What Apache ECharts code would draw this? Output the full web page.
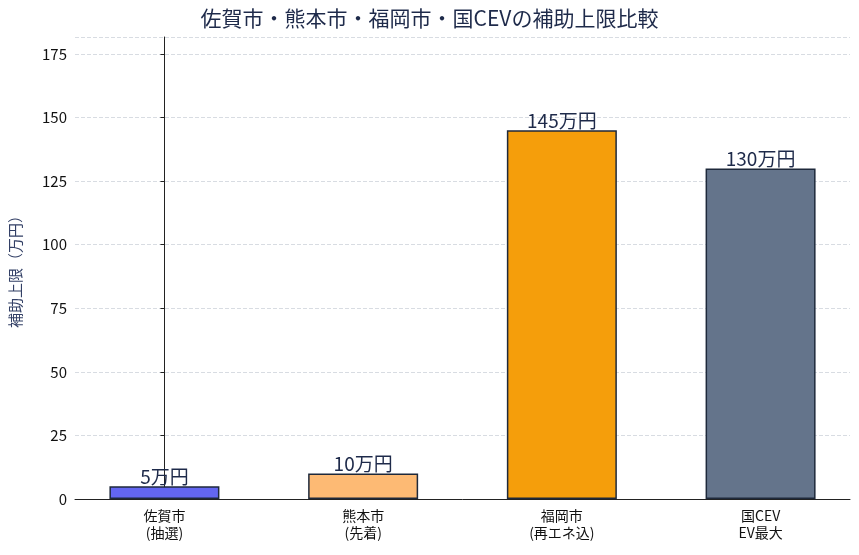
<!DOCTYPE html>
<html><head><meta charset="utf-8">
<script src="https://cdn.jsdelivr.net/npm/echarts@6/dist/echarts.min.js"></script>
<style>html,body{margin:0;padding:0;background:#fff}#c{width:859px;height:555px}</style>
</head><body><div id="c"></div>
<script>
const categories = ['佐賀市\n(抽選)', '熊本市\n(先着)', '福岡市\n(再エネ込)', '国CEV\nEV最大'];
const values = [5, 10, 145, 130];
const labels = ['5万円', '10万円', '145万円', '130万円'];
const colors = ['#6366f1', '#fdba74', '#f59e0b', '#64748b'];
const font = '"Noto Sans CJK JP", sans-serif';
const chart = echarts.init(document.getElementById('c'));
chart.setOption({
  animation: false,
  textStyle: { fontFamily: font },
  title: { text: '佐賀市・熊本市・福岡市・国CEVの補助上限比較', left: 'center', top: 3,
    textStyle: { fontFamily: font, fontSize: 21, fontWeight: 'normal', color: '#1e2a4a' } },
  grid: { left: 75, right: 9, top: 37, bottom: 56 },
  xAxis: { type: 'value', min: -0.45, max: 3.45,
    axisLine: { show: true, lineStyle: { color: '#222' } }, axisTick: { show: false },
    splitLine: { show: false },
    axisLabel: { customValues: [0, 1, 2, 3], color: '#111', fontSize: 14, lineHeight: 17, fontFamily: font,
      formatter: v => categories[Math.round(v)] } },
  yAxis: { type: 'value', min: 0, max: 181.7, interval: 25, name: '補助上限（万円）',
    nameLocation: 'middle', nameGap: 52, nameTextStyle: { color: '#334066', fontSize: 15, fontFamily: font },
    axisLine: { show: true, lineStyle: { color: '#222' } }, axisTick: { show: true, length: 4, lineStyle: { color: '#222' } },
    axisLabel: { color: '#111', fontSize: 15, fontFamily: font, showMaxLabel: false },
    splitLine: { lineStyle: { color: '#d8dce2', type: 'dashed' } } },
  series: [{ type: 'bar', barWidth: 110,
    data: values.map((v, i) => ({ value: [i, v], itemStyle: { color: colors[i] } })),
    itemStyle: { borderColor: '#1e293b', borderWidth: 1.5 },
    label: { show: true, position: 'top', distance: 0, fontSize: 19, color: '#1e2a4a', fontFamily: font,
      formatter: p => labels[p.dataIndex] } }]
});
</script></body></html>
